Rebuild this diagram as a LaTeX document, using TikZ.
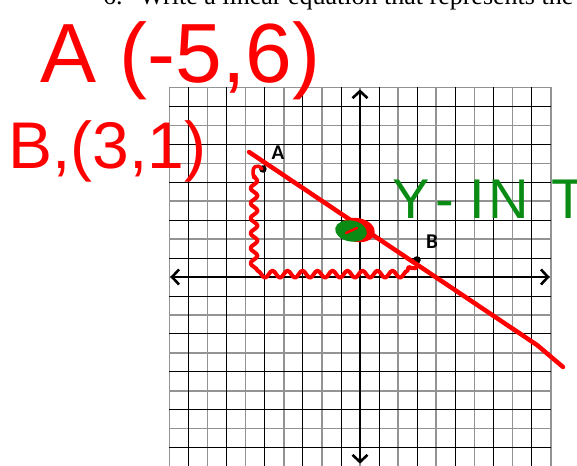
\documentclass[tikz,border=0pt]{standalone}
\usepackage{fontspec}
\setmainfont{Liberation Serif}
\newfontfamily\handfont{Liberation Sans}
\newfontfamily\labelfont{Carlito}
\usepackage{tikz}
\usetikzlibrary{arrows.meta,calc,positioning,decorations.pathmorphing}
\definecolor{penred}{RGB}{255,0,0}
\definecolor{pengreen}{RGB}{10,140,20}

\begin{document}
\begin{tikzpicture}[x=1pt,y=-1pt,
    gridgray/.style={gray!85,line width=1.6pt},
    gridblack/.style={black,line width=0.8pt},
    axis/.style={line width=2.6pt,{Straight Barb[length=7pt,width=15pt]}-{Straight Barb[length=7pt,width=15pt]}},
    dot/.style={circle,fill=black,inner sep=0pt,minimum size=7.5pt},
    ptlabel/.style={font=\labelfont\bfseries\fontsize{21}{21}\selectfont},
    pen/.style={penred,line width=4.5pt,line cap=round,line join=round},
    hand/.style={inner sep=0pt,anchor=base west}]
    \useasboundingbox (0,0) rectangle (577,465);
    \clip (0,0) rectangle (577,465);
    \fill[white] (0,0) rectangle (577,465);
    % Opgavetekst (skaaret af foroven)
    \node[hand,font=\fontsize{26}{26}\selectfont] (task) at (103,5) {6.\hspace{17pt}Write a linear equation that represents the};
    % Gitter og akser
    \begin{scope}[shift={(360pt,-277pt)},x=19.07pt,y=18.95pt]
      \foreach \i in {-10,-8,...,10} {
        \draw[gridgray] (\i,-10.4) -- (\i,10);
        \draw[gridgray] (-10,\i) -- (10,\i);
      }
      \foreach \i in {-9,-7,...,9} {
        \draw[gridblack] (\i,-10.4) -- (\i,10);
        \draw[gridblack] (-10,\i) -- (10,\i);
      }
      \draw[axis] (-9.95,0) -- (9.95,0);
      \draw[axis] (0,-9.85) -- (0,9.9);
      % Punkterne A og B
      \node[dot] (ptA) at (-5.09,5.70) {};
      \node[dot] (ptB) at (2.99,0.90) {};
      \node[ptlabel] (labA) at (-4.30,6.54) {A};
      \node[ptlabel] (labB) at (3.78,1.85) {B};
    \end{scope}
    % Roed linje gennem A og B
    \coordinate (lineS) at (249,152);
    \coordinate (lineK) at (537,345);
    \coordinate (lineE) at (563,367);
    \draw[pen] (lineS) -- (lineK) -- (lineE);
    % Boelget trekant (stigning)
    \draw[pen,line width=4pt,decorate,decoration={snake,segment length=15pt,amplitude=3.5pt}]
      (254,176) -- (254,268) -- (416,268);
    \draw[pen,line width=3.5pt] (254,178) .. controls (250,166) and (258,163) .. (262,169);
    % Skaering med y-aksen
    \fill[penred,rotate around={-10:(357,230)}] (357,230) ellipse [x radius=18pt,y radius=12pt];
    \fill[pengreen,rotate around={-10:(351,231)}] (351,231) ellipse [x radius=16pt,y radius=10.5pt];
    \draw[penred,line width=2.5pt,line cap=round] (346,233) -- (357,228);
    % Haandskrift
    \node[hand,penred,font=\handfont\fontsize{84}{84}\selectfont] (noteA) at (40,83) {A (-5,6)};
    \node[hand,penred,font=\handfont\fontsize{66}{66}\selectfont] (noteB) at (8,168) {B,(3,1)};
    \node[hand,pengreen,font=\handfont\fontsize{56}{56}\selectfont] (noteY) at (392,218)
      {Y\kern6pt-\kern15pt I\kern4pt N\kern22pt T};
\end{tikzpicture}
\end{document}
